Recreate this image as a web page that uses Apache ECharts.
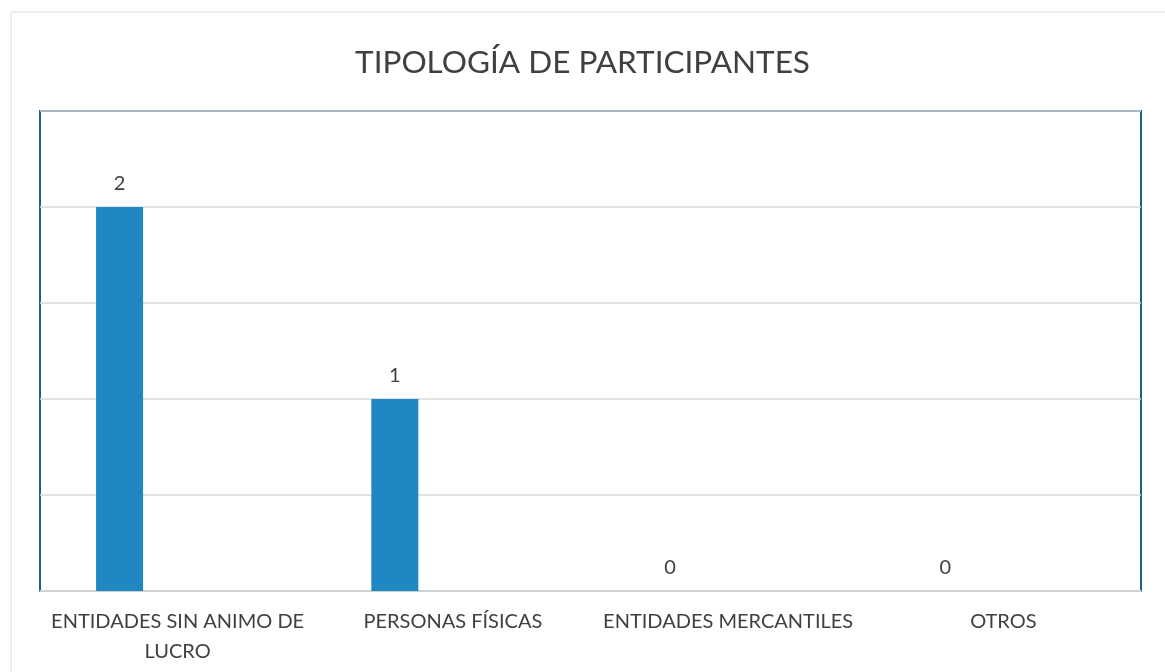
<!DOCTYPE html>
<html>
<head>
<meta charset="utf-8">
<script src="https://cdn.jsdelivr.net/npm/echarts@6/dist/echarts.min.js"></script>
<style>
  html, body { margin: 0; padding: 0; background: #fff; }
  #chart { width: 1165px; height: 672px; }
</style>
</head>
<body>
<div id="chart"></div>
<script>
var categories = ['ENTIDADES SIN ANIMO DE\nLUCRO', 'PERSONAS FÍSICAS', 'ENTIDADES MERCANTILES', 'OTROS'];
var participantes = [2, 1, 0, 0];
var vacio = ['-', '-', '-', '-'];

var myChart = echarts.init(document.getElementById('chart'));

var option = {
    backgroundColor: '#fff',
    textStyle: { fontFamily: 'Lato' },
    title: {
        text: 'TIPOLOGÍA DE PARTICIPANTES',
        left: 'center',
        top: 42,
        textStyle: {
            fontFamily: 'Lato',
            fontSize: 31.5,
            fontWeight: 'normal',
            color: '#404040'
        }
    },
    graphic: [
        {
            type: 'polyline',
            shape: { points: [[11, 672], [11, 12], [1165, 12]] },
            style: { stroke: '#dcdcdc', lineWidth: 1, fill: null },
            silent: true
        }
    ],
    grid: {
        left: 40,
        right: 24,
        top: 111,
        bottom: 81,
        show: true,
        borderColor: '#1b5f8c',
        borderWidth: 2
    },
    xAxis: {
        type: 'category',
        data: categories,
        axisLine: { lineStyle: { color: '#d9d9d9', width: 1.5 } },
        axisTick: { show: false },
        axisLabel: {
            color: '#404040',
            fontSize: 20,
            lineHeight: 30,
            margin: 16,
            interval: 0
        }
    },
    yAxis: {
        type: 'value',
        min: 0,
        max: 2.5,
        interval: 0.5,
        axisLabel: { show: false },
        axisLine: { show: false },
        axisTick: { show: false },
        splitLine: { lineStyle: { color: '#d9d9d9', width: 1.5 } }
    },
    series: [
        {
            name: 'Participantes',
            type: 'bar',
            data: participantes,
            barWidth: 47,
            barGap: '147%',
            itemStyle: { color: '#1f88c2' },
            label: {
                show: true,
                position: 'top',
                distance: 13,
                color: '#404040',
                fontSize: 20
            }
        },
        {
            name: 'Vacio',
            type: 'bar',
            data: vacio,
            barWidth: 47
        }
    ]
};

myChart.setOption(option);
</script>
</body>
</html>
